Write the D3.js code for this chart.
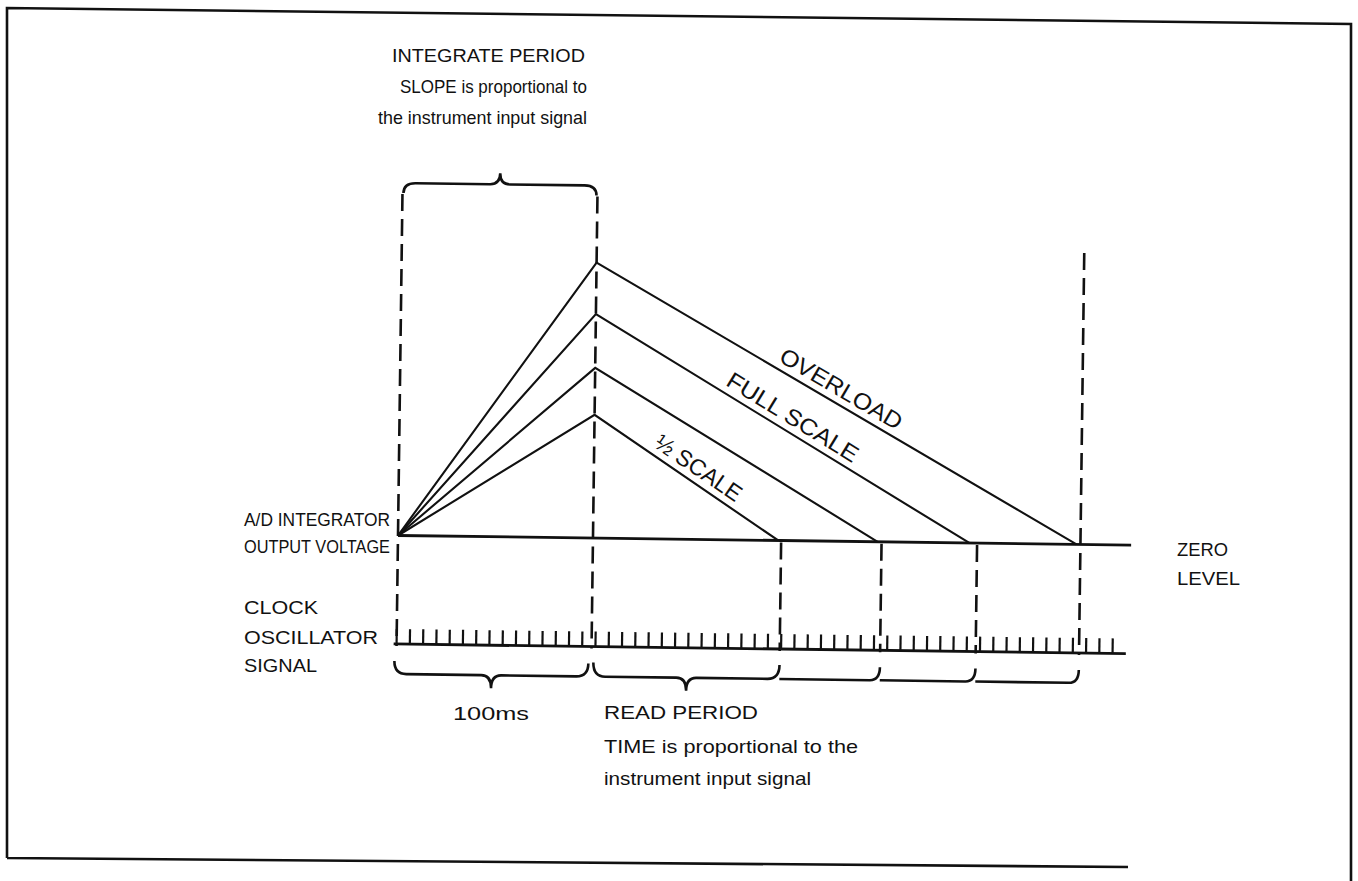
<!DOCTYPE html>
<html>
<head>
<meta charset="utf-8">
<script src="https://cdn.jsdelivr.net/npm/d3@7"></script>
<style>
  html, body { margin: 0; padding: 0; background: #fff; }
  text { font-family: "Liberation Sans", Arial, sans-serif; fill: #111; }
</style>
</head>
<body>
<script>
// ---------------- data ----------------
const levelNames   = ["HALF", "THREE_QUARTER", "FULL", "OVERLOAD"];
const levelLabels  = ["½ SCALE", "", "FULL SCALE", "OVERLOAD"];
const peakValues   = [0.55, 0.76, 1.0, 1.23];      // integrator output at end of integrate period (full scale = 1)
const zeroCrossMs  = [195, 246, 293, 348];         // time the ramp returns to zero level (ms)
const countEndMs   = [196.5, 248, 297, 350];       // clock count end markers (ms)
const labelStartFrac = [0.295, 0, 0.335, 0.37];    // where each label starts along the down ramp
const labelLength  = [100, 0, 150, 138];
const integrateMs  = 100;
const clockPeriodMs = 6.8;
const clockEndMs    = 369;
const zeroLevelEndMs = 376;

const W = 1358, H = 881;
const svg = d3.select("body").append("svg").attr("width", W).attr("height", H);

// frame (scanned page slightly skewed)
svg.append("path")
  .attr("d", "M7,858 L7,8 L1351,24 L1351,881 M7,858 L1128,867")
  .attr("fill", "none").attr("stroke", "#111").attr("stroke-width", 2.6);

const g = svg.append("g").attr("transform", "rotate(0.75,398,535.5)");

const x = d3.scaleLinear().domain([0, 100]).range([398, 593]);
const y = d3.scaleLinear().domain([0, 1]).range([535.5, 311.5]);
const ink = "#111";

// dashed guide lines
const dash = "17,8";
function vdash(t, y0, y1) {
  g.append("line").attr("x1", x(t)).attr("x2", x(t)).attr("y1", y0).attr("y2", y1)
    .attr("stroke", ink).attr("stroke-width", 2.6).attr("stroke-dasharray", dash);
}
vdash(0, 194, 646);
vdash(integrateMs, 194, 646);
countEndMs.forEach((t, i) => {
  if (i === countEndMs.length - 1) vdash(t, 244, 646);
  else vdash(t, y(0) + 2, 646);
});

// zero level
g.append("line").attr("x1", x(0)).attr("x2", x(zeroLevelEndMs))
  .attr("y1", y(0)).attr("y2", y(0)).attr("stroke", ink).attr("stroke-width", 2.8);

// ramps
const line = d3.line().x(d => x(d[0])).y(d => y(d[1]));
peakValues.forEach((v, i) => {
  g.append("path").attr("d", line([[0, 0], [integrateMs, v], [zeroCrossMs[i], 0]]))
    .attr("fill", "none").attr("stroke", ink).attr("stroke-width", 2.1)
    .attr("stroke-linejoin", "miter");
});

// labels on ramps
peakValues.forEach((v, i) => {
  if (!levelLabels[i]) return;
  const p0 = [x(integrateMs), y(v)], p1 = [x(zeroCrossMs[i]), y(0)];
  const a = Math.atan2(p1[1] - p0[1], p1[0] - p0[0]) * 180 / Math.PI;
  const f = labelStartFrac[i];
  const px = p0[0] + (p1[0] - p0[0]) * f, py = p0[1] + (p1[1] - p0[1]) * f;
  g.append("text").attr("transform", `translate(${px},${py}) rotate(${a})`)
    .attr("text-anchor", "start").attr("dy", -7)
    .attr("textLength", labelLength[i]).attr("lengthAdjust", "spacingAndGlyphs")
    .style("font-size", "23px")
    .text(levelLabels[i]);
});

// clock oscillator signal
const baseY = 644;
g.append("line").attr("x1", x(-1.5)).attr("x2", x(374)).attr("y1", baseY).attr("y2", baseY)
  .attr("stroke", ink).attr("stroke-width", 2.8);
const ticks = d3.range(0, clockEndMs + 0.01, clockPeriodMs);
g.selectAll("line.tick").data(ticks).join("line").attr("class", "tick")
  .attr("x1", d => x(d)).attr("x2", d => x(d)).attr("y1", baseY - 15).attr("y2", baseY)
  .attr("stroke", ink).attr("stroke-width", 2.2);

// braces
function brace(x0, x1, yb, dir, tip, end) {
  // dir = -1 : tip up ; dir = +1 : tip down
  const xm = (x0 + x1) / 2;
  const ye = yb - dir * end, yt = yb + dir * tip;
  let d = `M${x0},${ye} Q${x0},${yb} ${x0 + 12},${yb} L${xm - 10},${yb} Q${xm},${yb} ${xm},${yt}`;
  d += ` Q${xm},${yb} ${xm + 10},${yb} L${x1 - 12},${yb} Q${x1},${yb} ${x1},${ye}`;
  g.append("path").attr("d", d).attr("fill", "none").attr("stroke", ink).attr("stroke-width", 2.6);
}
brace(x(0) + 1, x(integrateMs) - 1, 183, -1, 11, 10);
brace(x(-1), x(integrateMs) - 3, 674, 1, 13, 13);
brace(x(integrateMs) + 2, x(countEndMs[0]), 674, 1, 13, 14);
for (let i = 1; i < countEndMs.length; i++) {
  const a = x(countEndMs[i - 1]), b = x(countEndMs[i]);
  g.append("path").attr("d", `M${a},674 L${b - 10},674 Q${b},674 ${b},661`)
    .attr("fill", "none").attr("stroke", ink).attr("stroke-width", 2.6);
}

// texts (page coordinates): text, x, baseline y, width, font size
const texts = [
  ["INTEGRATE PERIOD", 392, 62, 193, 19],
  ["SLOPE is proportional to", 400, 93, 187, 19],
  ["the instrument input signal", 378, 124, 209, 19],
  ["A/D INTEGRATOR", 244, 526, 146, 18],
  ["OUTPUT VOLTAGE", 244, 553, 146, 18],
  ["CLOCK", 244, 614, 74, 19],
  ["OSCILLATOR", 244, 644, 134, 19],
  ["SIGNAL", 244, 672, 73, 19],
  ["ZERO", 1177, 556, 51, 19],
  ["LEVEL", 1177, 585, 63, 19],
  ["100ms", 453, 720, 76, 19],
  ["READ PERIOD", 604, 719, 154, 19],
  ["TIME is proportional to the", 604, 753, 254, 19],
  ["instrument input signal", 604, 785, 207, 19]
];
svg.selectAll("text.lbl").data(texts).join("text").attr("class", "lbl")
  .attr("x", d => d[1]).attr("y", d => d[2])
  .attr("textLength", d => d[3]).attr("lengthAdjust", "spacingAndGlyphs")
  .style("font-size", d => d[4] + "px").text(d => d[0]);
</script>
</body>
</html>
